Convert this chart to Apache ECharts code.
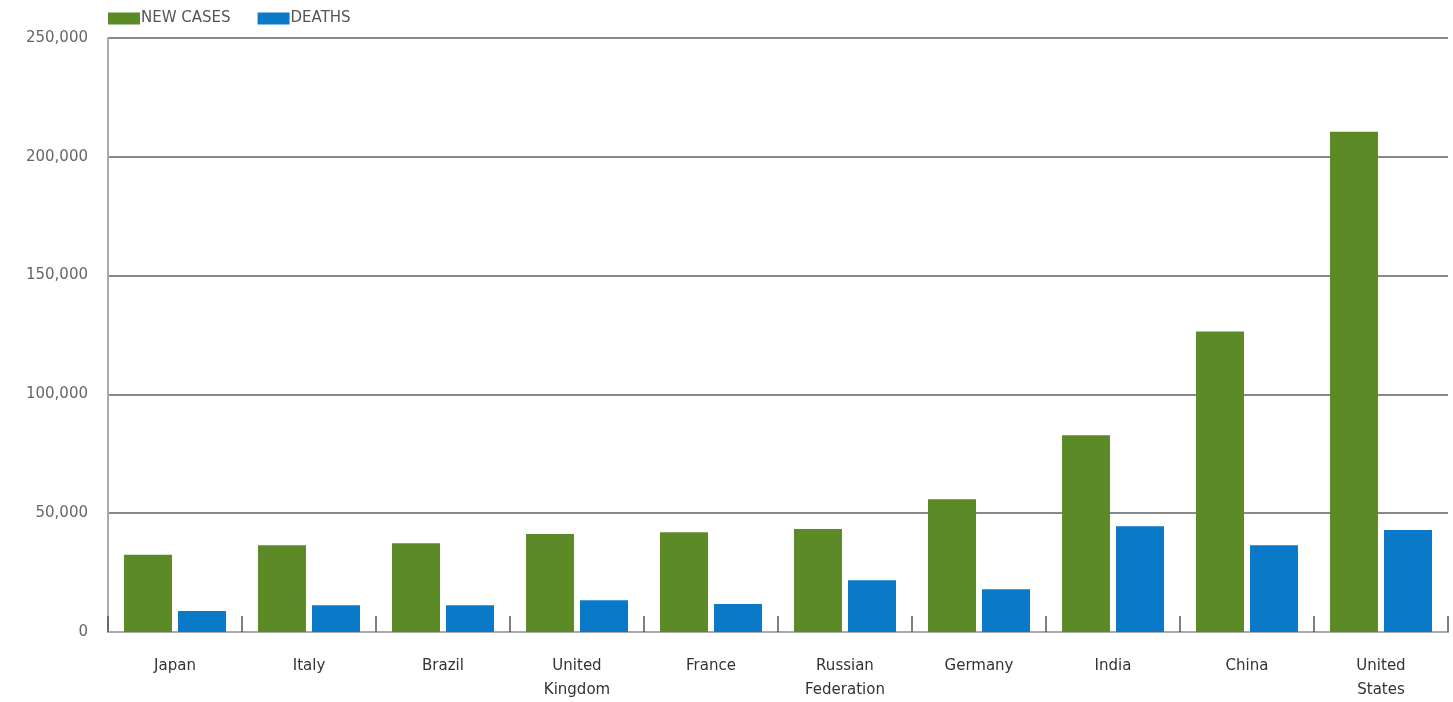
<!DOCTYPE html>
<html>
<head>
<meta charset="utf-8">
<script src="https://cdn.jsdelivr.net/npm/echarts@6/dist/echarts.min.js"></script>
<style>
  html, body { margin: 0; padding: 0; background: #fff; }
  #chart { width: 1453px; height: 702px; }
</style>
</head>
<body>
<div id="chart"></div>
<script>
let countries = ['Japan', 'Italy', 'Brazil', 'United\nKingdom', 'France',
    'Russian\nFederation', 'Germany', 'India', 'China', 'United\nStates'];
let new_cases = [32500, 36500, 37400, 41200, 42000, 43300, 55900, 82800, 126500, 210500];
let deaths = [8800, 11300, 11300, 13400, 11800, 21800, 18000, 44500, 36500, 42900];

let green = '#5b8a26';
let blue = '#0a7ac8';
let text_color = '#555';

function drawBars(){
    let my_chart = echarts.init(document.getElementById('chart'));

    let option = {
        animation: false,
        textStyle: {
            fontFamily: 'DejaVu Sans'
        },
        legend: {
            left: 108,
            top: 11,
            padding: 0,
            itemWidth: 32,
            itemHeight: 12,
            itemGap: 27,
            icon: 'rect',
            textStyle: {
                color: text_color,
                fontSize: 15,
                padding: [0, 0, 0, -4]
            },
            data: ['NEW CASES', 'DEATHS']
        },
        grid: {
            left: 108,
            right: 5,
            top: 38,
            bottom: 69
        },
        xAxis: {
            type: 'category',
            data: countries,
            axisLine: {
                lineStyle: { color: '#aaa', width: 2 }
            },
            axisTick: {
                show: true,
                inside: true,
                length: 16,
                lineStyle: { color: '#555', width: 1.5 }
            },
            axisLabel: {
                color: '#333',
                fontSize: 15,
                margin: 22,
                lineHeight: 24
            }
        },
        yAxis: {
            type: 'value',
            min: 0,
            max: 250000,
            interval: 50000,
            axisLine: {
                show: true,
                lineStyle: { color: '#aaa', width: 2 }
            },
            axisTick: { show: false },
            axisLabel: {
                color: '#666',
                fontSize: 15,
                margin: 20,
                formatter: function (v) {
                    return v.toLocaleString('en-US');
                }
            },
            splitLine: {
                lineStyle: { color: '#888', width: 2 }
            }
        },
        series: [
            {
                name: 'NEW CASES',
                type: 'bar',
                barWidth: 48,
                barGap: '12.5%',
                itemStyle: { color: green },
                data: new_cases
            },
            {
                name: 'DEATHS',
                type: 'bar',
                barWidth: 48,
                itemStyle: { color: blue },
                data: deaths
            }
        ]
    };

    my_chart.setOption(option);
}

drawBars();
</script>
</body>
</html>
